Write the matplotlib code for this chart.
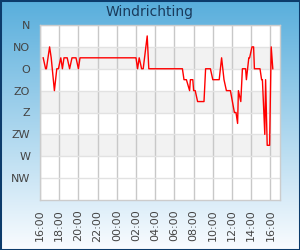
import matplotlib
matplotlib.use("Agg")
import matplotlib.pyplot as plt
import matplotlib.dates as mdates
import numpy as np
from datetime import datetime, timedelta

title = "Windrichting"
dir_labels = ["N", "NO", "O", "ZO", "Z", "ZW", "W", "NW"]
dir_values = [0, 45, 90, 135, 180, 225, 270, 315]

times = ["16:20", "16:35", "16:40", "17:00", "17:10", "17:30", "17:45", "17:55",
         "18:10", "18:20", "18:30", "18:50", "19:05", "19:20", "19:45", "20:00",
         "20:10", "02:00", "02:10", "02:20", "02:35", "02:45", "03:10", "03:20",
         "06:50", "07:00", "07:15", "07:35", "07:40", "07:55", "08:00", "08:10",
         "08:25", "09:05", "09:15", "09:45", "10:00", "10:40", "10:55", "11:10",
         "11:25", "11:50", "12:15", "12:25", "12:35", "12:40", "12:55", "13:05",
         "13:25", "13:30", "13:45", "13:50", "14:05", "14:15", "14:20", "14:55",
         "15:05", "15:10", "15:25", "15:30", "15:40", "15:55", "16:05", "16:15"]
direction = [67.5, 90, 90, 45, 67.5, 135, 90, 90,
             67.5, 90, 67.5, 67.5, 90, 67.5, 67.5, 90,
             67.5, 67.5, 90, 67.5, 90, 90, 22.5, 90,
             90, 112.5, 112.5, 135, 112.5, 112.5, 135, 135,
             157.5, 157.5, 90, 90, 112.5, 112.5, 67.5, 112.5,
             135, 135, 180, 180, 202.5, 135, 157.5, 90,
             90, 112.5, 67.5, 67.5, 45, 45, 90, 90,
             112.5, 112.5, 225, 112.5, 247.5, 247.5, 45, 90]

start = datetime(2024, 1, 1, 16, 0)
end = start + timedelta(hours=25)

# build datetimes with day rollover
dts = []
day = 0
prev = None
for t in times:
    hh, mm = map(int, t.split(":"))
    cur = hh * 60 + mm
    if prev is not None and cur < prev:
        day += 1
    prev = cur
    dts.append(datetime(2024, 1, 1 + day, hh, mm))

fig = plt.figure(figsize=(3.0, 2.5), dpi=100)

# gradient background
bg = fig.add_axes([0, 0, 1, 1], zorder=-10)
top = np.array([88, 174, 220]) / 255.0
bot = np.array([250, 252, 255]) / 255.0
tt = np.linspace(0, 1, 256)[:, None]
grad = top[None, :] * (1 - tt) + bot[None, :] * tt
bg.imshow(grad[:, None, :], aspect="auto", extent=[0, 1, 0, 1])
bg.set_axis_off()
bg.add_patch(plt.Rectangle((0, 0), 1, 1, transform=bg.transAxes, fill=False,
                           edgecolor="#0c3b6b", linewidth=2.2, zorder=5))

ax = fig.add_axes([40 / 300, 50 / 250, 240 / 300, 175 / 250])
ax.set_facecolor("white")
for lo, hi in [(45, 90), (135, 180), (225, 270)]:
    ax.axhspan(lo, hi, color="#f2f2f2", zorder=0, lw=0)

ax.plot(dts, direction, color="#ff0000", linewidth=1.0, zorder=3)

ax.set_ylim(360, 0)
ax.set_yticks(dir_values)
ax.set_yticklabels(dir_labels)
ax.set_xlim(start, end)
ax.xaxis.set_major_locator(mdates.HourLocator(byhour=range(0, 24, 2)))
ax.xaxis.set_major_formatter(mdates.DateFormatter("%H:%M"))

ax.grid(axis="x", color="#c8c8c8", linewidth=1.0, zorder=1)
ax.grid(axis="y", color="#e2e2e2", linewidth=1.0, zorder=1)
ax.set_axisbelow(True)

ax.tick_params(axis="both", length=0, labelsize=8, labelcolor="#444444")
ax.tick_params(axis="y", pad=7)
ax.tick_params(axis="x", pad=7, labelrotation=90)

for s in ax.spines.values():
    s.set_color("#cccccc")
    s.set_linewidth(1.0)

fig.text(0.5, 1 - 12 / 250, title, ha="center", va="center", fontsize=10,
         color="#1a3b5c")

fig.savefig("out.png", dpi=100)
